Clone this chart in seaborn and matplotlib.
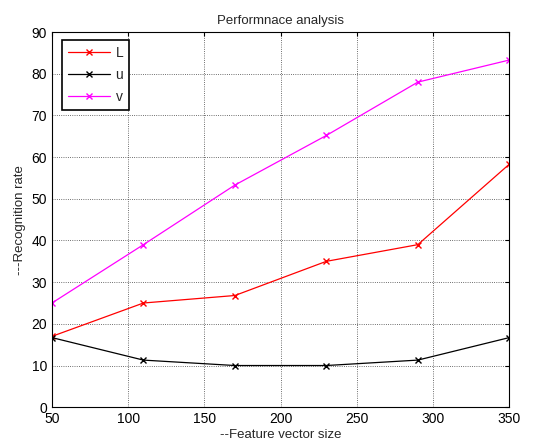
import pandas as pd
import matplotlib
matplotlib.use("Agg")
import matplotlib.pyplot as plt
import seaborn as sns

# data
feature_size = [50, 110, 170, 230, 290, 350]
rate_L = [17, 25, 26.8, 35, 39, 58.3]
rate_u = [16.7, 11.3, 10, 10, 11.3, 16.7]
rate_v = [25, 39, 53.3, 65.2, 78, 83.3]
series_names = ["L", "u", "v"]
x_ticks = [50, 100, 150, 200, 250, 300, 350]
y_ticks = [0, 10, 20, 30, 40, 50, 60, 70, 80, 90]

df = pd.DataFrame({
    "size": feature_size * 3,
    "rate": rate_L + rate_u + rate_v,
    "series": [s for s in series_names for _ in feature_size],
})

sns.set_style("white")
plt.rcParams["font.family"] = ["Liberation Sans", "DejaVu Sans"]

fig = plt.figure(figsize=(5.47, 4.46), dpi=100)
ax = fig.add_axes([0.095, 0.087, 0.836, 0.841])

sns.lineplot(data=df, x="size", y="rate", hue="series", palette=["#ff0000", "#000000", "#ff00ff"],
             marker="x", markersize=5, linewidth=0.9, ax=ax)
# seaborn gives the markers a white edge, put the line colour back
for ln in ax.get_lines():
    ln.set_markeredgecolor(ln.get_color())
    ln.set_markeredgewidth(1)

ax.set_xlim(50, 350)
ax.set_ylim(0, 90)
ax.set_xticks(x_ticks)
ax.set_yticks(y_ticks)
ax.grid(True, linestyle=":", color="#404040", linewidth=0.6)
ax.tick_params(direction="in", top=True, right=True, length=3, labelsize=10, colors="black")
for sp in ax.spines.values():
    sp.set_color("black")
    sp.set_linewidth(0.8)

ax.set_title("Performnace analysis", fontsize=9.5, pad=6)
ax.set_xlabel("--Feature vector size", fontsize=9.5, labelpad=2)
ax.set_ylabel("---Recognition rate", fontsize=9.5, labelpad=4)

leg = ax.legend(title=None, loc="upper left", fontsize=10, frameon=True, fancybox=False,
                edgecolor="black", framealpha=1, borderpad=0.45, handlelength=3.0,
                handletextpad=0.4, labelspacing=0.55, borderaxespad=0,
                bbox_to_anchor=(0.022, 0.979))
leg.get_frame().set_linewidth(1.2)
for h in leg.legend_handles:
    h.set_markeredgecolor(h.get_color())
    h.set_markeredgewidth(1)

fig.savefig("out.png", dpi=100)
